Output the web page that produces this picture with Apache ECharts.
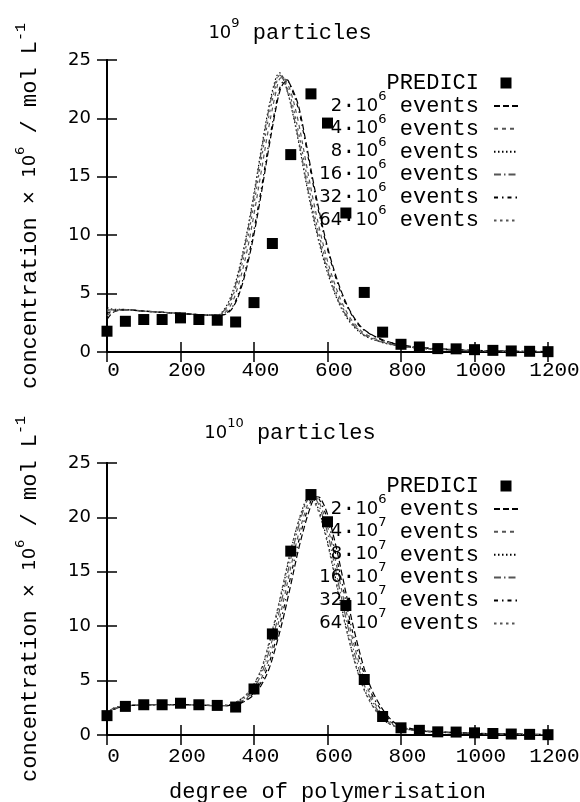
<!DOCTYPE html>
<html><head><meta charset="utf-8">
<script src="https://cdn.jsdelivr.net/npm/echarts@6/dist/echarts.min.js"></script>
<style>html,body{margin:0;padding:0;background:#fff}#c{width:580px;height:802px}</style>
</head><body><div id="c"></div>
<script>
// ---- data ----
const X_TICKS = [0, 200, 400, 600, 800, 1000, 1200];
const Y_TICKS = [0, 5, 10, 15, 20, 25];

const X_PRED = [0,50,100,150,200,250,300,350,400,450,500,555,600,650,700,750,800,850,900,950,1000,1050,1100,1150,1200];
const Y_PRED = [1.78,2.63,2.78,2.78,2.92,2.78,2.72,2.57,4.23,9.29,16.9,22.1,19.6,11.9,5.1,1.7,0.66,0.43,0.29,0.27,0.2,0.14,0.09,0.06,0.03];

// top chart (10^9 particles) curves
const X_TOP = [0,10,20,40,60,100,150,200,250,300,320,340,360,380,400,420,440,460,470,480,490,500,520,540,560,580,600,620,640,660,680,700,750,800,850,900,1000,1100,1200];
const TOP_2E6  = [2.8,3.2,3.45,3.6,3.6,3.5,3.4,3.3,3.2,3.15, 3.2,3.7,5.0,7.2,10.1, 13.6,17.4,20.9,22.3,23.0, 23.2,22.8,21.2,18.2,14.8, 11.7,9.0,6.8,5.0,3.6, 2.6,1.9,1.05,0.62,0.4, 0.28,0.14,0.07,0.04];
const TOP_4E6  = [3.1,3.35,3.5,3.6,3.6,3.5,3.4,3.3,3.2,3.15, 3.35,4.2,6.0,8.5,11.8, 15.5,19.2,22.3,23.4,23.5, 23.0,22.3,19.8,16.5,13.2, 10.3,7.8,5.8,4.2,3.0, 2.2,1.6,0.9,0.55,0.35, 0.25,0.12,0.06,0.03];
const TOP_8E6  = [3.8,3.7,3.65,3.65,3.6,3.5,3.4,3.3,3.2,3.15, 3.7,5.0,7.2,10.1,13.6, 17.4,20.9,23.5,23.9,23.4, 22.4,21.2,18.2,14.8,11.7, 9.0,6.8,5.0,3.6,2.6, 1.9,1.4,0.8,0.5,0.32, 0.22,0.11,0.05,0.03];
const TOP_16E6 = [3.6,3.6,3.6,3.65,3.6,3.5,3.4,3.3,3.2,3.15, 3.6,4.8,7.0,9.9,13.4, 17.2,20.7,23.3,23.7,23.3, 22.4,21.3,18.4,15.0,11.9, 9.2,7.0,5.1,3.7,2.7, 2.0,1.45,0.82,0.5,0.32, 0.22,0.11,0.05,0.03];
const TOP_32E6 = [3.3,3.45,3.55,3.6,3.6,3.5,3.4,3.3,3.2,3.15, 3.25,3.8,5.2,7.5,10.5, 14.0,17.8,21.2,22.6,23.2, 23.3,22.7,20.9,17.9,14.5, 11.4,8.8,6.6,4.8,3.5, 2.5,1.85,1.0,0.6,0.38, 0.27,0.13,0.07,0.04];
const TOP_64E6 = [3.5,3.55,3.6,3.6,3.6,3.5,3.4,3.3,3.2,3.15, 3.5,4.6,6.6,9.3,12.7, 16.5,20.1,22.9,23.7,23.5, 22.7,21.8,19.0,15.7,12.4, 9.7,7.3,5.4,3.9,2.8, 2.05,1.5,0.85,0.52,0.33, 0.23,0.11,0.05,0.03];

// bottom chart (10^10 particles) curves
const X_BOT = [0,10,20,40,60,100,150,200,250,300,320,340,360,380,400,420,440,460,480,500,520,540,550,560,570,580,600,620,640,660,680,700,720,740,760,780,800,850,900,1000,1100,1200];
const BOT_2E6  = [1.85,2.15,2.35,2.6,2.7,2.75,2.8,2.8,2.75,2.7, 2.7,2.72,2.85,3.2,3.7, 4.6,6.0,8.2,10.8,13.8, 16.9,19.5,20.6,21.5,21.9, 21.8,20.3,17.8,14.7,11.5, 8.6,6.1,4.2,2.9,1.9, 1.2,0.85,0.45,0.3,0.16, 0.09,0.05];
const BOT_4E7  = [1.9,2.2,2.4,2.6,2.7,2.75,2.8,2.8,2.75,2.7, 2.7,2.75,3.0,3.4,4.1, 5.2,7.0,9.4,12.3,15.4, 18.3,20.6,21.5,21.9,21.8, 21.2,19.2,16.3,13.1,10.0, 7.3,5.1,3.5,2.3,1.5, 1.0,0.7,0.4,0.28,0.15, 0.08,0.04];
const BOT_8E7  = [2.0,2.3,2.5,2.65,2.7,2.75,2.8,2.8,2.75,2.7, 2.72,2.85,3.2,3.7,4.6, 6.0,8.2,10.8,13.8,16.9, 19.5,21.5,21.9,21.8,21.2, 20.3,17.8,14.7,11.5,8.6, 6.1,4.2,2.9,1.9,1.2, 0.85,0.62,0.38,0.26,0.14, 0.07,0.04];
const BOT_16E7 = [1.95,2.25,2.45,2.62,2.7,2.75,2.8,2.8,2.75,2.7, 2.71,2.8,3.1,3.55,4.35, 5.6,7.6,10.1,13.1,16.2, 19.0,21.2,21.8,22.0,21.6, 20.8,18.6,15.5,12.3,9.3, 6.7,4.6,3.2,2.1,1.35, 0.92,0.66,0.39,0.27,0.14, 0.08,0.04];
const BOT_32E7 = [1.9,2.2,2.4,2.6,2.7,2.75,2.8,2.8,2.75,2.7, 2.7,2.73,2.92,3.3,3.9, 4.9,6.5,8.8,11.5,14.6, 17.6,20.1,21.1,21.8,21.9, 21.5,19.8,17.0,13.9,10.7, 7.9,5.6,3.8,2.6,1.7, 1.1,0.78,0.42,0.29,0.15, 0.08,0.04];
const BOT_64E7 = [2.0,2.3,2.5,2.65,2.7,2.75,2.8,2.8,2.75,2.7, 2.72,2.85,3.2,3.75,4.7, 6.1,8.4,11.0,14.0,17.0, 19.5,21.3,21.7,21.6,21.0, 20.1,17.6,14.5,11.3,8.5, 6.0,4.1,2.8,1.85,1.2, 0.85,0.6,0.37,0.26,0.14, 0.07,0.04];

const TOP_NAMES = ['2·10^6 events','4·10^6 events','8·10^6 events','16·10^6 events','32·10^6 events','64·10^6 events'];
const BOT_NAMES = ['2·10^6 events','4·10^7 events','8·10^7 events','16·10^7 events','32·10^7 events','64·10^7 events'];
const TOP_CURVES = [TOP_2E6, TOP_4E6, TOP_8E6, TOP_16E6, TOP_32E6, TOP_64E6];
const BOT_CURVES = [BOT_2E6, BOT_4E7, BOT_8E7, BOT_16E7, BOT_32E7, BOT_64E7];

// ---- styles ----
const MONO = 'Liberation Mono';
const SANS = 'DejaVu Sans';
const LINE_STYLES = [
  {color:'#000', type:[6,3]},
  {color:'#555', type:[4,4]},
  {color:'#000', type:[1.5,2.5]},
  {color:'#555', type:[7,3,1.5,3]},
  {color:'#000', type:[4,4,1.5,4]},
  {color:'#555', type:[2.5,3.5]}
];
const LH = 32;
const RICH = {
  m: {fontFamily: MONO, fontSize: 22, fontWeight:'normal', lineHeight: LH, color: '#000'},
  d: {fontFamily: SANS, fontSize: 18, fontWeight:'normal', lineHeight: LH, color: '#000'},
  s: {fontFamily: SANS, fontSize: 13, fontWeight:'normal', lineHeight: 13, verticalAlign: 'top', color: '#000'},
  sm: {fontFamily: MONO, fontSize: 15, fontWeight:'normal', lineHeight: 13, verticalAlign: 'top', color: '#000'}
};

function legendFmt(name) {
  if (name === 'PREDICI') return '{m|PREDICI}';
  const m = name.match(/^(\d+)·10\^(\d+) events$/);
  return '{d|' + m[1] + '}{m|·}{d|10}{s|' + m[2] + '}{m| events}';
}

const chart = echarts.init(document.getElementById('c'), null, {renderer: 'canvas'});

function xAxes(gridIndex, showName) {
  return [
    {type:'value', gridIndex, position:'bottom', min:0, max:1200, interval:200,
     axisLine:{show:true, lineStyle:{color:'#000', width:2}},
     axisTick:{show:true, inside:true, length:10, lineStyle:{color:'#000', width:1.5}},
     axisLabel:{show:true, color:'#000', fontFamily:MONO, fontSize:21, margin: gridIndex === 0 ? 8 : 11,
                padding:[0,0,0,13], showMinLabel:true, showMaxLabel:true,
                formatter: v => String(v)},
     splitLine:{show:false},
     name: showName ? 'degree of polymerisation' : '',
     nameLocation:'middle', nameGap:46,
     nameTextStyle:{fontFamily:MONO, fontSize:22, color:'#000'}},
    {type:'value', gridIndex, position:'top', min:0, max:1200, interval:200,
     axisLine:{show:true, lineStyle:{color:'#000', width:2}},
     axisTick:{show:true, inside:true, length:10, lineStyle:{color:'#000', width:1.5}},
     axisLabel:{show:false}, splitLine:{show:false}}
  ];
}
function yAxes(gridIndex) {
  return [
    {type:'value', gridIndex, position:'left', min:0, max:25, interval:5,
     axisLine:{show:true, lineStyle:{color:'#000', width:2}},
     axisTick:{show:true, inside:true, length:10, lineStyle:{color:'#000', width:1.5}},
     axisLabel:{show:true, color:'#000', fontFamily:SANS, fontSize:18, margin:16,
                showMinLabel:true, showMaxLabel:true},
     splitLine:{show:false},
     name:'{m|concentration × }{d|10}{s|6}{m| / mol L}{sm|-1}',
     nameLocation:'middle', nameGap:61,
     nameTextStyle:{rich: RICH}},
    {type:'value', gridIndex, position:'right', min:0, max:25, interval:5,
     axisLine:{show:true, lineStyle:{color:'#000', width:2}},
     axisTick:{show:true, inside:true, length:10, lineStyle:{color:'#000', width:1.5}},
     axisLabel:{show:false}, splitLine:{show:false}}
  ];
}

function buildSeries(axisIdx, xs, curves, names) {
  const out = [];
  curves.forEach((ys, i) => {
    out.push({
      type:'line', name: names[i], xAxisIndex: axisIdx, yAxisIndex: axisIdx,
      data: xs.map((x, j) => [x, ys[j]]),
      symbol:'none', smooth:0.35, silent:true,
      lineStyle: Object.assign({width:1.2}, LINE_STYLES[i]),
      itemStyle: {color: LINE_STYLES[i].color},
      z: 2
    });
  });
  out.push({
    type:'scatter', name:'PREDICI', xAxisIndex: axisIdx, yAxisIndex: axisIdx,
    data: X_PRED.map((x, j) => [x, Y_PRED[j]]),
    symbol:'rect', symbolSize:11, itemStyle:{color:'#000', opacity:1}, silent:true, z: 5
  });
  return out;
}

function legend(names, top) {
  return {
    orient:'vertical', right:61, top, padding:0, align:'right',
    itemWidth:24, itemHeight:11, itemGap: -4.1,
    symbolKeepAspect:true,
    selectedMode:false,
    data: [{name:'PREDICI', icon:'path://M0,0H10V10H0Z', itemStyle:{color:'#000', opacity:1}}].concat(names.map(n => ({
      name: n,
      itemStyle: {color:'rgba(0,0,0,0)', borderColor:'rgba(0,0,0,0)', borderWidth:0, opacity:0}
    }))),
    formatter: legendFmt,
    textStyle: {padding:[0,10,0,0], rich: RICH}
  };
}

const option = {
  animation:false,
  backgroundColor:'#fff',
  title: [
    {text:'{d|10}{s|9}{m| particles}', left:'center', top:17, padding:[0,0,0,74],
     textStyle:{fontWeight:'normal', rich: RICH}},
    {text:'{d|10}{s|10}{m| particles}', left:'center', top:417, padding:[0,0,0,74],
     textStyle:{fontWeight:'normal', rich: RICH}}
  ],
  grid: [
    {left:107, right:32, top:60, height:292, containLabel:false, outerBoundsMode:'none'},
    {left:107, right:32, top:463, height:272, containLabel:false, outerBoundsMode:'none'}
  ],
  xAxis: xAxes(0, false).concat(xAxes(1, true)),
  yAxis: yAxes(0).concat(yAxes(1)),
  legend: [legend(TOP_NAMES, 72), legend(BOT_NAMES, 475)],
  series: buildSeries(0, X_TOP, TOP_CURVES, TOP_NAMES).concat(buildSeries(2, X_BOT, BOT_CURVES, BOT_NAMES))
};
chart.setOption(option);
</script></body></html>
